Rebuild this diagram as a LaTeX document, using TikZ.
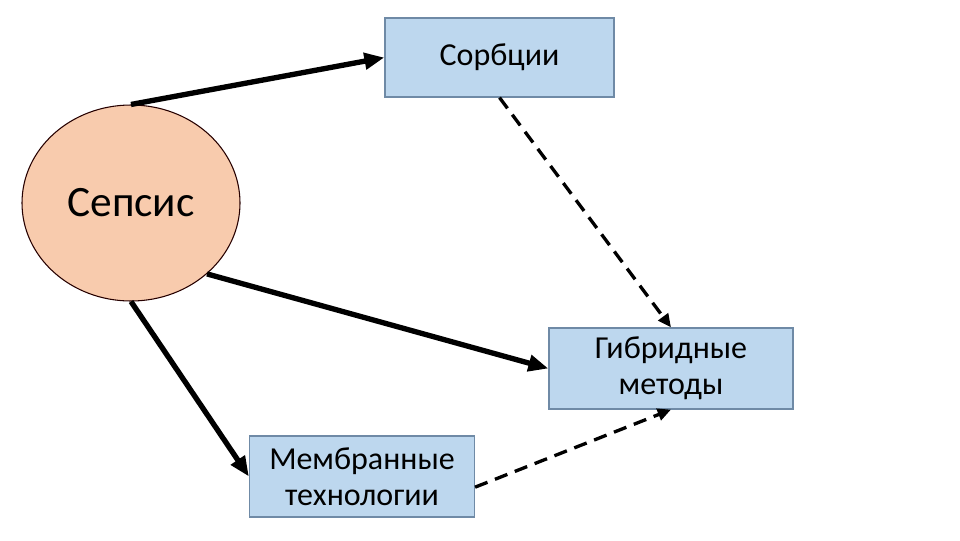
\documentclass[tikz,border=0pt]{standalone}
\usepackage{fontspec}
\setmainfont{Carlito}
\usetikzlibrary{arrows.meta,shapes.geometric}
\definecolor{peach}{HTML}{F8CBAD}
\definecolor{boxblue}{HTML}{BDD7EE}
\definecolor{boxedge}{HTML}{6F8AA6}
\begin{document}
\begin{tikzpicture}[x=0.75pt,y=-0.75pt,
  boxnode/.style={draw=boxedge,line width=0.9pt,fill=boxblue,inner sep=0pt,align=center,
    font=\fontsize{24pt}{27pt}\selectfont,text=black},
  solidarrow/.style={line width=4pt,-{Triangle[length=15pt,width=12pt]}},
  dasharrow/.style={line width=2.5pt,dash pattern=on 10pt off 6pt,-{Triangle[length=10pt,width=9pt]}}]
\useasboundingbox (0,0) rectangle (960,540);
\node[ellipse,draw=black!85!red,line width=0.8pt,fill=peach,minimum width=163.5pt,minimum height=147pt,inner sep=0pt,
  font=\fontsize{32.5pt}{34pt}\selectfont] (sep) at (131,203) {Сепсис};
\node[boxnode,minimum width=171.75pt,minimum height=59.25pt] (sorb) at (499.5,57.5) {Сорбции};
\node[boxnode,minimum width=183pt,minimum height=60.75pt] (hyb) at (671,368.5) {Гибридные\\методы};
\node[boxnode,minimum width=168.75pt,minimum height=60.75pt] (memb) at (362,476.5) {Мембранные\\технологии};
\coordinate (membout) at ([yshift=-8pt]memb.east);
\draw[solidarrow] (sep.north) -- (sorb.west);
\draw[solidarrow] (sep.-43) -- (hyb.west);
\draw[solidarrow] (sep.south) -- (memb.west);
\draw[dasharrow] (sorb.south) -- (hyb.north);
\draw[dasharrow] (membout) -- (hyb.south);
\end{tikzpicture}
\end{document}
